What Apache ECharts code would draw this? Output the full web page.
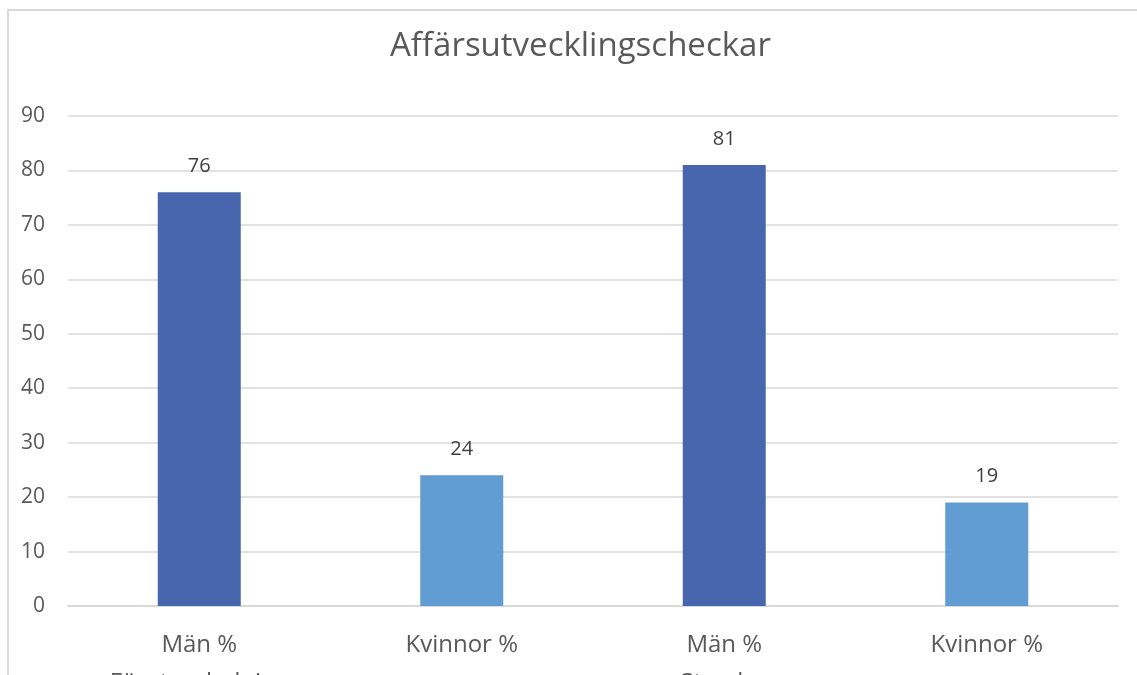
<!DOCTYPE html>
<html>
<head>
<meta charset="utf-8">
<script src="https://cdn.jsdelivr.net/npm/echarts@6/dist/echarts.min.js"></script>
<style>
	html, body { margin: 0; padding: 0; background: #fff; }
	#chart { width: 1137px; height: 675px; }
</style>
</head>
<body>
<div id="chart"></div>
<script>
// data
var categories = ['Män %\nFöretagsledning', 'Kvinnor %', 'Män %\nStyrelse', 'Kvinnor %'];
var values = [76, 24, 81, 19];
var barColors = ['#4866ad', '#619dd2', '#4866ad', '#619dd2'];

var fontName = '"Open Sans", "Noto Sans", sans-serif';
var myChart = echarts.init(document.getElementById('chart'));

var option = {
	backgroundColor: '#fff',
	animation: false,
	title: {
		text: 'Affärsutvecklingscheckar',
		left: 385,
		top: 25,
		textStyle: {
			fontFamily: fontName,
			fontSize: 33,
			fontWeight: 'normal',
			color: '#595959'
		}
	},
	// ram runt diagrammet (skuren i bilden)
	graphic: [{
		type: 'rect',
		shape: { x: 8, y: 10, width: 1200, height: 700 },
		style: { fill: 'none', stroke: '#d9d9d9', lineWidth: 2 },
		silent: true
	}],
	grid: {
		left: 68,
		right: 19,
		top: 116,
		bottom: 69,
		containLabel: false,
		outerBoundsMode: 'none'
	},
	xAxis: {
		type: 'category',
		data: categories,
		axisLine: { lineStyle: { color: '#d9d9d9', width: 2 } },
		axisTick: { show: false },
		axisLabel: {
			fontFamily: fontName,
			fontSize: 24,
			color: '#595959',
			margin: 20,
			lineHeight: 38,
			verticalAlign: 'top',
			interval: 0
		}
	},
	yAxis: {
		type: 'value',
		min: 0,
		max: 90,
		interval: 10,
		axisLine: { show: false },
		axisTick: { show: false },
		splitLine: { lineStyle: { color: '#d9d9d9', width: 1.5 } },
		axisLabel: {
			fontFamily: fontName,
			fontSize: 21,
			color: '#595959',
			margin: 23
		}
	},
	series: [{
		type: 'bar',
		barWidth: 83,
		data: values.map(function (v, i) {
			return { value: v, itemStyle: { color: barColors[i] } };
		}),
		label: {
			show: true,
			position: 'top',
			distance: 16,
			fontFamily: fontName,
			fontSize: 20,
			color: '#404040'
		}
	}]
};

myChart.setOption(option);
</script>
</body>
</html>
